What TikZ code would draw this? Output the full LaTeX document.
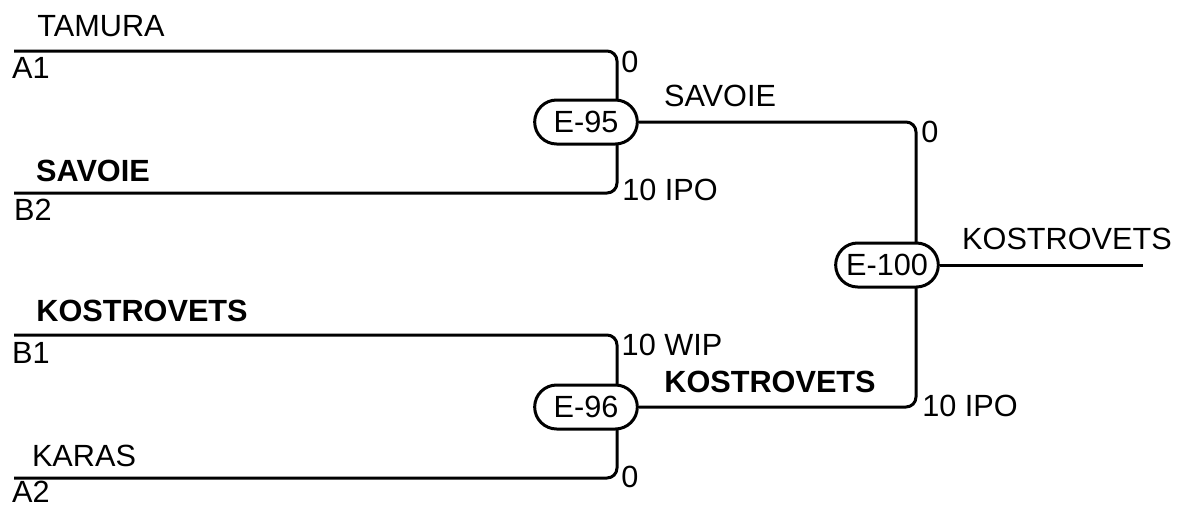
\documentclass[tikz,border=0pt]{standalone}
\usepackage{fontspec}
\setmainfont{Liberation Sans}

\tikzset{every picture/.style={line width=2.25pt}}
\tikzset{
	wire/.style={line width=2.25pt, rounded corners=7.5pt},
	event/.style={draw, fill=white, line width=2.25pt, rounded corners=16.5pt, minimum width=77pt, minimum height=33pt, inner sep=0pt, font=\fontsize{23}{27}\selectfont},
	lbl/.style={inner sep=0pt, font=\fontsize{23}{27}\selectfont},
	blbl/.style={inner sep=0pt, font=\fontsize{23}{27}\selectfont\bfseries}
}

\begin{document}
\begin{tikzpicture}[x=0.75pt,y=0.75pt,yscale=-1]
	\useasboundingbox (0,0) rectangle (1179,504);

	%Coordinates
	\coordinate (a1) at (14,51);
	\coordinate (b2) at (14,193);
	\coordinate (b1) at (14,335);
	\coordinate (a2) at (14,478);
	\coordinate (j95) at (617,122);
	\coordinate (j96) at (617,407);
	\coordinate (j100) at (916,265);
	\coordinate (out) at (1143,265);

	%Straight Lines
	\draw [wire] (a1) -| (j95) |- (b2) ;
	%Straight Lines
	\draw [wire] (b1) -| (j96) |- (a2) ;

	%Shape: Rounded Rect
	\node [event] (e95) at (586,122) {E-95};
	%Shape: Rounded Rect
	\node [event] (e96) at (586,407) {E-96};

	%Straight Lines
	\draw [wire] (e95) -| (j100) |- (e96) ;

	%Shape: Rounded Rect
	\node [event] (e100) at (887,265) {E-100};
	%Straight Lines
	\draw [wire] (e100) -- (out) ;

	% Text Node
	\node [lbl] (tamura) at (101,26) {TAMURA};
	% Text Node
	\node [lbl] (la1) at (31,68) {A1};
	% Text Node
	\node [blbl] (savoie) at (93,171) {SAVOIE};
	% Text Node
	\node [lbl] (lb2) at (33,210) {B2};
	% Text Node
	\node [blbl] (kostro) at (142,311) {KOSTROVETS};
	% Text Node
	\node [lbl] (lb1) at (31,353) {B1};
	% Text Node
	\node [lbl] (karas) at (84,456) {KARAS};
	% Text Node
	\node [lbl] (la2) at (31,492) {A2};

	% Text Node
	\node [lbl] (s95a) at (630,62) {0};
	% Text Node
	\node [lbl] (s95b) at (670,190) {10 IPO};
	% Text Node
	\node [lbl] (w95) at (720,96) {SAVOIE};
	% Text Node
	\node [lbl] (s96a) at (672,345) {10 WIP};
	% Text Node
	\node [lbl] (s96b) at (630,477) {0};
	% Text Node
	\node [blbl] (w96) at (770,382) {KOSTROVETS};
	% Text Node
	\node [lbl] (s100a) at (930,132) {0};
	% Text Node
	\node [lbl] (s100b) at (970,406) {10 IPO};
	% Text Node
	\node [lbl] (w100) at (1067,239) {KOSTROVETS};

\end{tikzpicture}
\end{document}
